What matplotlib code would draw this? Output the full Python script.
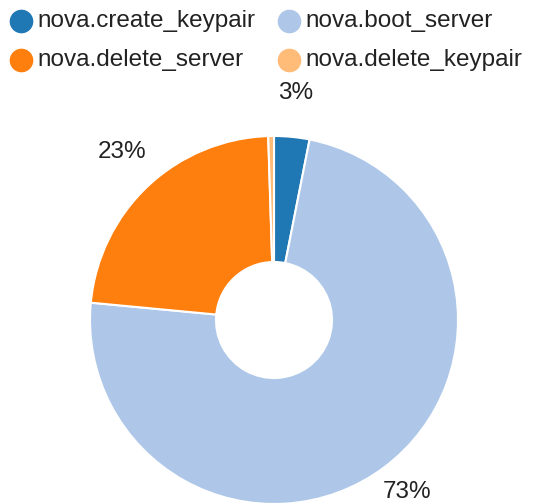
"""Donut chart of nova action durations share."""

import numpy as np
import matplotlib

matplotlib.use("Agg")
import matplotlib.pyplot as plt
from matplotlib.lines import Line2D

ACTIONS = [
    "nova.create_keypair",
    "nova.boot_server",
    "nova.delete_server",
    "nova.delete_keypair",
]
SHARES = [3.1, 73.4, 23.0, 0.5]
COLORS = ["#1f77b4", "#aec7e8", "#ff7f0e", "#ffbb78"]

W, H = 550, 503
CX, CY, R = 274, 320, 184
HOLE = 58
LABEL_R = 222 / 184
FONT = 17.5

plt.rcParams["font.family"] = ["Liberation Sans", "DejaVu Sans"]


def main() -> None:
    fig = plt.figure(figsize=(W / 100, H / 100), dpi=100)
    ax = fig.add_axes([(CX - R) / W, (H - CY - R) / H, 2 * R / W, 2 * R / H])

    wedges, _ = ax.pie(
        SHARES,
        colors=COLORS,
        startangle=90,
        counterclock=False,
        radius=1.0,
        wedgeprops={"width": 1 - HOLE / R, "edgecolor": "white", "linewidth": 1.5},
    )
    ax.set_xlim(-1, 1)
    ax.set_ylim(-1, 1)
    ax.axis("off")

    total = sum(SHARES)
    for wedge, share in zip(wedges, SHARES):
        if share / total < 0.02:
            continue
        mid = np.deg2rad((wedge.theta1 + wedge.theta2) / 2)
        ax.text(
            LABEL_R * np.cos(mid),
            LABEL_R * np.sin(mid),
            f"{share / total:.0%}",
            ha="center",
            va="baseline",
            fontsize=FONT,
            color="#222222",
            clip_on=False,
        )

    # legend drawn by hand, two columns like nvd3
    spots = [(21, 21), (289, 21), (21, 60), (289, 60)]
    for (x, y), name, color in zip(spots, ACTIONS, COLORS):
        fig.add_artist(
            Line2D(
                [x / W],
                [1 - y / H],
                marker="o",
                markersize=16,
                color=color,
                transform=fig.transFigure,
            )
        )
        fig.text(
            (x + 16) / W,
            1 - y / H,
            name,
            ha="left",
            va="center",
            fontsize=FONT,
            color="#222222",
        )

    fig.savefig("out.png", dpi=100)


if __name__ == "__main__":
    main()
